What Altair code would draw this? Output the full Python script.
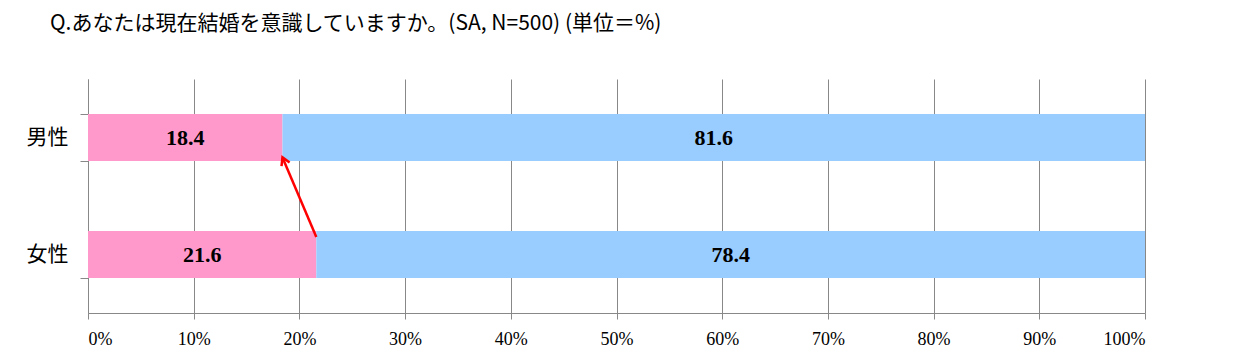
import altair as alt
import pandas as pd

genders = ["男性", "女性"]
aware = [18.4, 21.6]
not_aware = [81.6, 78.4]
series = ["意識している", "意識していない"]
colors = ["#FF99CC", "#99CCFF"]
ticks = [0, 10, 20, 30, 40, 50, 60, 70, 80, 90, 100]

rows = []
for g, a, n in zip(genders, aware, not_aware):
    rows.append({"gender": g, "series": series[0], "start": 0, "end": a, "value": a, "order": 0})
    rows.append({"gender": g, "series": series[1], "start": a, "end": a + n, "value": n, "order": 1})
df = pd.DataFrame(rows)
df["mid"] = (df["start"] + df["end"]) / 2
df["label"] = df["value"].map(lambda v: f"{v:.1f}")

# arrow from 女性 boundary to 男性 boundary (y on a 0..2 hidden scale: 女性 band 0-1, 男性 band 1-2)
arrow = pd.DataFrame({"x": [aware[1]], "x2": [aware[0]], "y": [0.65], "y2": [1.33]})
head = pd.DataFrame({"x": [aware[0]], "y": [1.33]})

xscale = alt.Scale(domain=[0, 100], nice=False)
yband = alt.Scale(domain=genders, paddingInner=0.6, paddingOuter=0.3)

base = alt.Chart(df)

bars = base.mark_bar().encode(
    x=alt.X("start:Q", scale=xscale,
            axis=alt.Axis(values=ticks, labelExpr="datum.value + '%'", title=None,
                          grid=True, gridColor="#888888", gridWidth=1,
                          domainColor="#888888", tickColor="#888888", tickSize=6,
                          labelFont="Liberation Serif", labelFontSize=18, labelColor="#000000",
                          labelPadding=11)),
    x2="end:Q",
    y=alt.Y("gender:N", scale=yband, sort=genders,
            axis=alt.Axis(title=None, tickBand="extent", tickSize=8, tickColor="#888888",
                          domainColor="#888888", labelFont="Noto Sans CJK JP", labelFontSize=21,
                          labelColor="#000000", labelPadding=12)),
    color=alt.Color("series:N", scale=alt.Scale(domain=series, range=colors), legend=None),
    order="order:Q",
)

labels = base.mark_text(font="Liberation Serif", fontWeight="bold", fontSize=22, color="#000000").encode(
    x=alt.X("mid:Q", scale=xscale),
    y=alt.Y("gender:N", scale=yband, sort=genders, axis=None),
    text="label:N",
)

yq = alt.Scale(domain=[0, 2], nice=False)
line = alt.Chart(arrow).mark_rule(color="#FF0000", strokeWidth=2.5).encode(
    x=alt.X("x:Q", scale=xscale),
    x2="x2:Q",
    y=alt.Y("y:Q", scale=yq, axis=None),
    y2="y2:Q",
)
arrowhead = alt.Chart(head).mark_point(
    shape="M-0.7,1.2L0,0L0.7,1.2", filled=False, stroke="#FF0000", strokeWidth=2.5,
    size=160, angle=336, opacity=1,
).encode(
    x=alt.X("x:Q", scale=xscale),
    y=alt.Y("y:Q", scale=yq, axis=None),
)

chart = alt.layer(bars, labels, line, arrowhead).resolve_scale(y="independent").properties(
    width=1057,
    height=234,
    autosize=alt.AutoSizeParams(type="none"),
    padding={"left": 80, "top": 71, "right": 89, "bottom": 36},
    title=alt.TitleParams(
        text="Q.あなたは現在結婚を意識していますか。(SA, N=500) (単位＝%)",
        anchor="start", frame="group", dx=-38, offset=34, font="Noto Sans CJK JP", fontSize=21,
        fontWeight="normal", color="#000000",
    ),
).configure_view(stroke=None)

chart.save("out.html", embed_options={"renderer": "svg", "actions": False})
